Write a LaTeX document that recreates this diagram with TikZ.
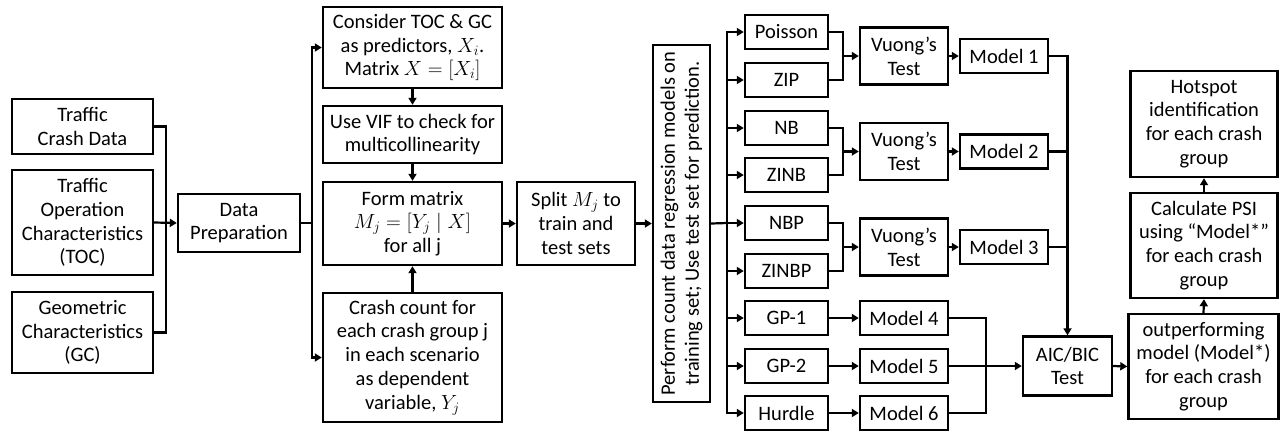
\RequirePackage{fix-cm}
\documentclass[tikz,border=0pt]{standalone}
\usepackage{fontspec}
\setmainfont{Carlito}
\usetikzlibrary{arrows.meta}
\begin{document}
\begin{tikzpicture}[x=1pt,y=-1pt,
  txt/.style={font=\fontsize{20.5}{23.8}\selectfont},
  box/.style={draw,line width=2.4pt,align=center,inner sep=0pt,txt},
  conn/.style={line width=2.2pt},
  arr/.style={conn,-{Triangle[length=7pt,width=8pt]}}]
\useasboundingbox (0,0) rectangle (1281,432);
% left inputs
\node[box,minimum width=141,minimum height=55] (cd) at (82.5,126.5) {Traffic\\Crash Data};
\node[box,minimum width=141,minimum height=105] (toc) at (82.5,222.5) {Traffic\\Operation\\Characteristics\\(TOC)};
\node[box,minimum width=141,minimum height=81] (gc) at (82.5,332.5) {Geometric\\Characteristics\\(GC)};
\node[box,minimum width=122,minimum height=58] (dp) at (239,223) {Data\\Preparation};
% second column
\node[box,minimum width=179,minimum height=81] (cons) at (412.5,47.5) {Consider TOC \& GC\\as predictors, $X_i$.\\Matrix $X=[X_i]$};
\node[box,minimum width=179,minimum height=57] (vif) at (412.5,134.5) {Use VIF to check for\\multicollinearity};
\node[box,minimum width=179,minimum height=83] (form) at (412.5,223.5) {Form matrix\\$M_j=[Y_j\mid X]$\\for all j};
\node[box,minimum width=179,minimum height=129] (crash) at (412.5,357.5) {Crash count for\\each crash group j\\in each scenario\\as dependent\\variable, $Y_j$};
\node[box,minimum width=118,minimum height=83] (split) at (576,223.5) {Split $M_j$ to\\train and\\test sets};
\node[box,minimum width=57,minimum height=357] (perf) at (681.5,223.5) {};
\node[align=center,rotate=90,inner sep=0pt,txt] (perft) at (perf.center) {Perform count data regression models on\\training set; Use test set for prediction.};
% model boxes
\foreach \n/\t/\y in {poi/Poisson/32, zip/ZIP/80, nb/NB/128, zinb/ZINB/175, nbp/NBP/223, zinbp/ZINBP/271, gpa/GP-1/318, gpb/GP-2/366, hur/Hurdle/413}
  \node[box,minimum width=83,minimum height=34] (\n) at (786.5,\y) {\t};
\node[box,minimum width=88,minimum height=57] (v1) at (904,56) {Vuong’s\\Test};
\node[box,minimum width=88,minimum height=57] (v2) at (904,151.5) {Vuong’s\\Test};
\node[box,minimum width=88,minimum height=57] (v3) at (904,247) {Vuong’s\\Test};
\node[box,minimum width=88,minimum height=34] (m1) at (1004,56) {Model 1};
\node[box,minimum width=88,minimum height=34] (m2) at (1004,151.5) {Model 2};
\node[box,minimum width=88,minimum height=34] (m3) at (1004,247) {Model 3};
\node[box,minimum width=88,minimum height=34] (m4) at (904,318) {Model 4};
\node[box,minimum width=88,minimum height=34] (m5) at (904,366) {Model 5};
\node[box,minimum width=88,minimum height=34] (m6) at (904,413) {Model 6};
\node[box,minimum width=89,minimum height=59] (aic) at (1067.5,366) {AIC/BIC\\Test};
\node[box,minimum width=150,minimum height=105] (out) at (1203.5,366.5) {outperforming\\model (Model*)\\for each crash\\group};
\node[box,minimum width=147,minimum height=105] (psi) at (1204,245.5) {Calculate PSI\\using “Model*”\\for each crash\\group};
\node[box,minimum width=147,minimum height=106] (hot) at (1204,124) {Hotspot\\identification\\for each crash\\group};
% bus coordinates
\coordinate (b1) at (166,223);
\coordinate (b2) at (312,223);
\coordinate (b3) at (727,223);
\coordinate (b4) at (986,366);
% connectors left
\draw[conn] (cd.east) -| (b1);
\draw[conn] (gc.east) -| (b1);
\draw[arr] (toc.east) -- (dp.west);
\draw[conn] (dp.east) -- (b2);
\draw[arr] (b2) |- (cons.west);
\draw[arr] (b2) |- (crash.west);
\draw[arr] (cons.south) -- (vif.north);
\draw[arr] (vif.south) -- (form.north);
\draw[arr] (crash.north) -- (form.south);
\draw[arr] (form.east) -- (split.west);
\draw[arr] (split.east) -- (perf.west);
\draw[conn] (perf.east) -- (b3);
\foreach \n in {poi,zip,nb,zinb,nbp,zinbp,gpa,gpb,hur}
  \draw[arr] (b3) |- (\n.west);
% Vuong groups
\draw[conn] (poi.east) -| ([xshift=-16pt]v1.west);
\draw[conn] (zip.east) -| ([xshift=-16pt]v1.west);
\draw[arr] ([xshift=-16pt]v1.west) -- (v1.west);
\draw[conn] (nb.east) -| ([xshift=-16pt]v2.west);
\draw[conn] (zinb.east) -| ([xshift=-16pt]v2.west);
\draw[arr] ([xshift=-16pt]v2.west) -- (v2.west);
\draw[conn] (nbp.east) -| ([xshift=-16pt]v3.west);
\draw[conn] (zinbp.east) -| ([xshift=-16pt]v3.west);
\draw[arr] ([xshift=-16pt]v3.west) -- (v3.west);
\draw[arr] (v1.east) -- (m1.west);
\draw[arr] (v2.east) -- (m2.west);
\draw[arr] (v3.east) -- (m3.west);
\draw[arr] (gpa.east) -- (m4.west);
\draw[arr] (gpb.east) -- (m5.west);
\draw[arr] (hur.east) -- (m6.west);
% to AIC
\draw[arr] (m1.east) -| (aic.north);
\draw[conn] (m2.east) -- (m2.east -| aic.north);
\draw[conn] (m3.east) -- (m3.east -| aic.north);
\draw[conn] (m4.east) -| (b4);
\draw[conn] (m6.east) -| (b4);
\draw[arr] (m5.east) -- (aic.west);
\draw[arr] (aic.east) -- (out.west);
\draw[arr] (out.north) -- (psi.south);
\draw[arr] (psi.north) -- (hot.south);
\end{tikzpicture}
\end{document}
